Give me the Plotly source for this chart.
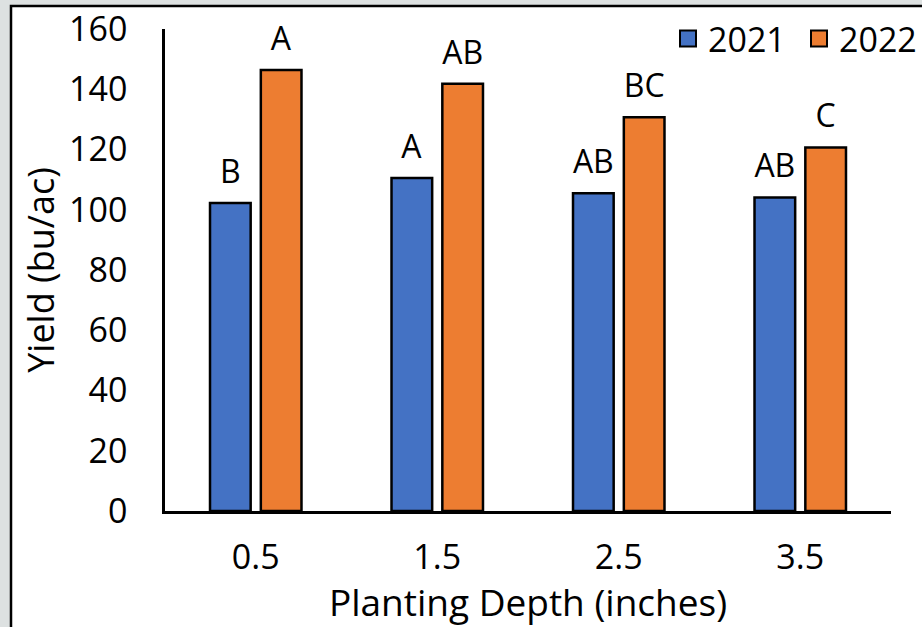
import plotly.graph_objects as go

depths = ["0.5", "1.5", "2.5", "3.5"]
yield_2021 = [102.2, 110.5, 105.5, 104.1]
yield_2022 = [146.4, 141.8, 130.7, 120.7]
letters_2021 = ["B", "A", "AB", "AB"]
letters_2022 = ["A", "AB", "BC", "C"]
y_ticks = [0, 20, 40, 60, 80, 100, 120, 140, 160]

FONT = "Open Sans"
BLUE = "#4472C4"
ORANGE = "#ED7D31"


def label(letter):
    return "<span style='font-size:32px'>" + letter + "</span><br> "


fig = go.Figure()
for name, vals, lets, col in [("2021", yield_2021, letters_2021, BLUE),
                              ("2022", yield_2022, letters_2022, ORANGE)]:
    fig.add_trace(go.Bar(
        x=depths, y=vals, name=name, showlegend=False,
        marker=dict(color=col, line=dict(color="black", width=2.5)),
        text=[label(l) for l in lets],
        textposition="outside", constraintext="none", cliponaxis=False,
        textfont=dict(family=FONT, size=11, color="black"),
    ))
    # legend entry with a larger square swatch
    fig.add_trace(go.Scatter(
        x=[None], y=[None], mode="markers", name=name,
        marker=dict(symbol="square", size=20, color=col,
                    line=dict(color="black", width=2)),
    ))

L, R, T, B = 165, 31, 29, 116
W, H = 922 - L - R, 627 - T - B

fig.update_layout(
    width=922, height=627,
    margin=dict(l=L, r=R, t=T, b=B, pad=0, autoexpand=False),
    paper_bgcolor="#dde1e1", plot_bgcolor="white",
    barmode="group", bargap=0.44, bargroupgap=0.2,
    font=dict(family=FONT, size=34, color="black"),
    showlegend=True,
    legend=dict(orientation="h", x=(930 - L) / W, xanchor="right",
                y=(627 - B - 10) / H, yanchor="top", itemsizing="trace",
                entrywidth=86,
                font=dict(size=34), bgcolor="rgba(0,0,0,0)"),
    shapes=[dict(type="rect", xref="paper", yref="paper", layer="below",
                 x0=(11 - L) / W, x1=2, y0=-1, y1=(627 - B - 6) / H,
                 line=dict(color="black", width=2.5), fillcolor="white")],
)
fig.update_xaxes(showline=True, linecolor="black", linewidth=2.5, showgrid=False,
                 ticks="outside", ticklen=14, tickcolor="rgba(0,0,0,0)",
                 tickfont=dict(size=34),
                 title=dict(text="Planting Depth (inches)", font=dict(size=37), standoff=2))
fig.update_yaxes(range=[0, 160.001], tickvals=y_ticks, showline=True, linecolor="black",
                 linewidth=2.5, showgrid=False, zeroline=False,
                 ticks="outside", ticklen=28, tickcolor="rgba(0,0,0,0)",
                 ticklabeloverflow="allow",
                 tickfont=dict(size=34),
                 title=dict(text="Yield (bu/ac)", font=dict(size=36), standoff=4))

fig.write_html("out.html")
